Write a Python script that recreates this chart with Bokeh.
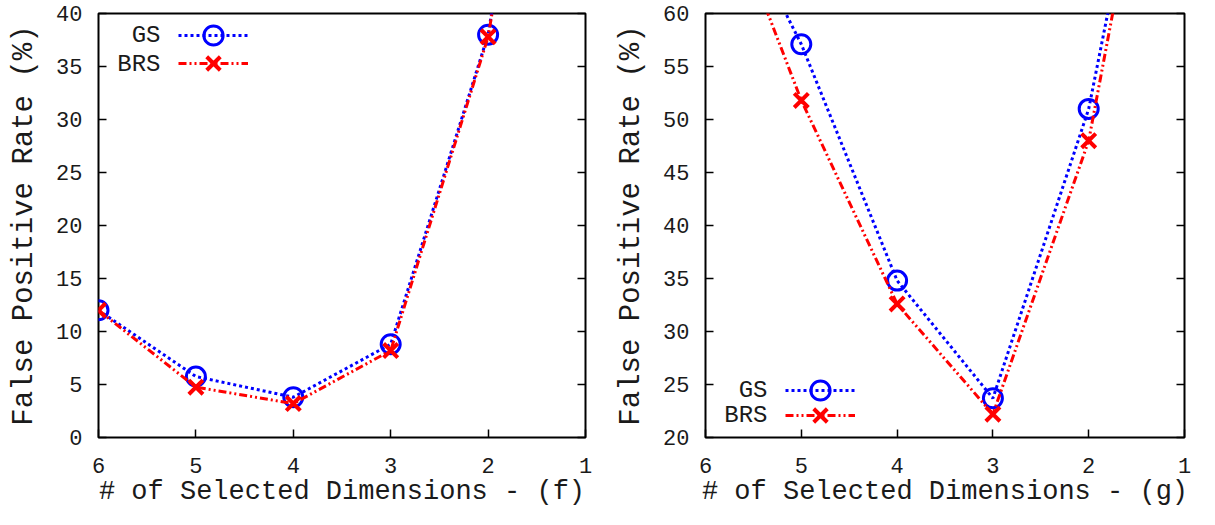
from bokeh.plotting import figure
from bokeh.layouts import row
from bokeh.models import (Range1d, FixedTicker, LinearAxis, Legend, LegendItem,
                          ColumnDataSource, Label)
from bokeh.embed import file_html
from bokeh.resources import INLINE

# ---- data ----
dims = [6, 5, 4, 3, 2, 1]
x_ticks = [1, 2, 3, 4, 5, 6]

gs_f = [12.0, 5.75, 3.8, 8.8, 38.0, 95.0]
brs_f = [12.0, 4.75, 3.2, 8.2, 37.8, 92.0]

gs_g = [75.0, 57.1, 34.8, 23.7, 51.0, 96.4]
brs_g = [75.3, 51.8, 32.6, 22.2, 48.0, 96.0]

series_names = ["GS", "BRS"]
y_label = "False Positive Rate (%)"
x_label_f = "# of Selected Dimensions - (f)"
x_label_g = "# of Selected Dimensions - (g)"

FONT = "Liberation Mono"
BLUE = "#0000ff"
RED = "#ff0000"
TXT = "#1a1a1a"
H = 509


def panel(gs, brs, ylo, yhi, xlabel, width, bl, br, leg_vy, lab_vy):
    p = figure(width=width, height=H, output_backend="svg", toolbar_location=None,
               x_range=Range1d(6, 1), y_range=Range1d(ylo, yhi),
               min_border_left=bl, min_border_right=br, min_border_top=13,
               min_border_bottom=72)
    p.xgrid.visible = False
    p.ygrid.visible = False
    p.outline_line_color = "black"
    p.outline_line_width = 2
    p.background_fill_color = "white"
    p.border_fill_color = "white"

    src = ColumnDataSource(dict(x=dims, gs=gs, brs=brs))
    gl = p.line("x", "gs", source=src, line_color=BLUE, line_width=3, line_dash="3 3")
    gm = p.scatter("x", "gs", source=src, marker="circle", size=19, fill_color=None,
                   line_color=BLUE, line_width=3)
    bl_ = p.line("x", "brs", source=src, line_color=RED, line_width=3,
                 line_dash="8 3 2 3 2 3")
    bm = p.scatter("x", "brs", source=src, marker="x", size=20, line_color=RED, line_width=4)

    yt = list(range(ylo, yhi + 1, 5))
    xa = p.xaxis[0]
    xa.ticker = FixedTicker(ticks=x_ticks)
    ya = p.yaxis[0]
    ya.ticker = FixedTicker(ticks=yt)
    for ax in (xa, ya):
        ax.axis_line_color = None
        ax.major_tick_in = 8
        ax.major_tick_out = 0
        ax.major_tick_line_width = 1.5
        ax.minor_tick_line_color = None
        ax.major_label_text_font = FONT
        ax.major_label_text_font_size = "22px"
        ax.major_label_text_color = TXT
        ax.axis_label_text_font = FONT
        ax.axis_label_text_font_style = "normal"
        ax.axis_label_text_color = TXT
    xa.axis_label_text_font_size = "27px"
    ya.axis_label_text_font_size = "29px"
    xa.axis_label = xlabel
    ya.axis_label = y_label
    xa.major_label_standoff = 20
    xa.axis_label_standoff = 1
    ya.major_label_standoff = 16
    ya.axis_label_standoff = 12

    ra = LinearAxis(ticker=FixedTicker(ticks=yt),
                    major_label_overrides={v: "" for v in yt},
                    axis_line_color=None, major_tick_in=8, major_tick_out=0,
                    major_tick_line_width=1.5, minor_tick_line_color=None,
                    major_label_standoff=0)
    p.add_layout(ra, "right")

    # gnuplot-style key: text on the left (right-aligned), sample on the right
    for name, rends, vy, ly in zip(series_names, [[gl, gm], [bl_, bm]], leg_vy, lab_vy):
        lg = Legend(items=[LegendItem(label="", renderers=rends)],
                    location=(80, vy), border_line_color=None, background_fill_alpha=0,
                    glyph_width=70, glyph_height=48, label_height=0, label_width=0,
                    label_standoff=0, label_text_font_size="1px",
                    padding=0, margin=0, spacing=0)
        p.add_layout(lg)
        p.add_layout(Label(x=62, y=ly, x_units="screen", y_units="screen", text=name,
                           text_align="right", text_baseline="middle",
                           text_font=FONT, text_font_size="24px", text_color=TXT))
    return p


p1 = panel(gs_f, brs_f, 0, 40, x_label_f, 604, 98, 19, [378, 350], [402, 373.5])
p2 = panel(gs_g, brs_g, 20, 60, x_label_g, 595, 101, 15, [23, -2], [47, 22])

layout = row(p1, p2)
open("out.html", "w").write(file_html(layout, INLINE))
